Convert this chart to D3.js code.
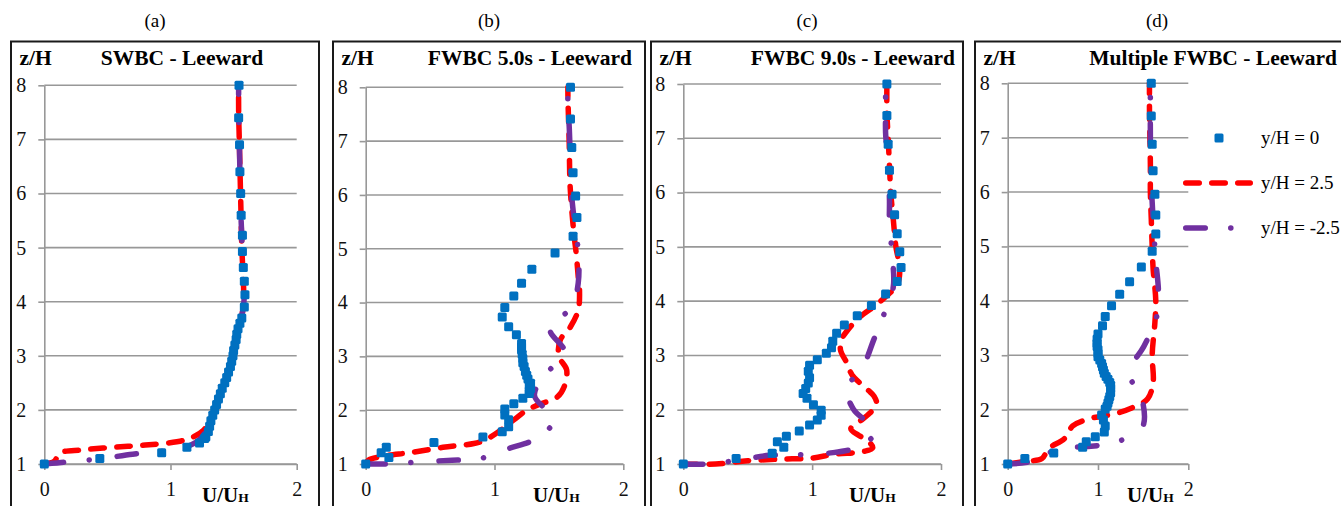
<!DOCTYPE html>
<html>
<head>
<meta charset="utf-8">
<script src="https://cdn.jsdelivr.net/npm/d3@7"></script>
<style>
    body { margin: 0; background: #fff; }
    svg { display: block; }
</style>
</head>
<body>
<div id="chart"></div>
<script>
// labels
const panelLetters = ["(a)", "(b)", "(c)", "(d)"];
const panelTitles = ["SWBC - Leeward", "FWBC 5.0s - Leeward", "FWBC 9.0s - Leeward", "Multiple FWBC - Leeward"];
const seriesNames = ["y/H = 0", "y/H = 2.5", "y/H = -2.5"];
const xTicks = [0, 1, 2];
const yTicks = [1, 2, 3, 4, 5, 6, 7, 8];

// data: [U/UH, z/H] pairs
const aY0 = [[0,1.0],[0.44,1.10],[0.93,1.21],[1.13,1.31],[1.23,1.39],[1.27,1.47],[1.28,1.5],[1.30,1.6],[1.31,1.7],[1.32,1.8],[1.335,1.9],[1.35,2.0],[1.365,2.1],[1.38,2.2],[1.395,2.3],[1.41,2.4],[1.43,2.5],[1.445,2.6],[1.46,2.7],[1.475,2.8],[1.485,2.9],[1.495,3.0],[1.50,3.1],[1.51,3.2],[1.52,3.3],[1.525,3.4],[1.535,3.5],[1.55,3.6],[1.565,3.7],[1.585,3.9],[1.59,4.13],[1.585,4.38],[1.577,4.63],[1.57,4.93],[1.57,5.23],[1.56,5.6],[1.556,6.0],[1.55,6.4],[1.547,6.9],[1.54,7.4],[1.543,8.0]];
const aY25 = [[0,1.0],[0.08,1.05],[0.12,1.2],[0.3,1.26],[0.55,1.31],[0.8,1.35],[1.05,1.41],[1.15,1.47],[1.26,1.62],[1.33,1.9],[1.38,2.2],[1.44,2.6],[1.49,3.0],[1.53,3.4],[1.57,3.8],[1.58,4.1],[1.575,4.5],[1.565,5.0],[1.56,5.5],[1.555,6.0],[1.55,6.5],[1.545,7.0],[1.54,7.5],[1.54,8.0]];
const aYm25 = [[0,1.0],[0.1,1.02],[0.2,1.04],[0.45,1.1],[0.7,1.18],[0.92,1.23],[1.13,1.32],[1.25,1.5],[1.33,1.9],[1.40,2.3],[1.47,2.8],[1.52,3.3],[1.57,3.8],[1.585,4.1],[1.575,4.6],[1.565,5.2],[1.555,5.8],[1.55,6.4],[1.545,7.0],[1.54,7.6],[1.54,8.0]];

const bY0 = [[0,1.0],[0.18,1.12],[0.12,1.21],[0.16,1.31],[0.53,1.40],[0.91,1.50],[1.06,1.60],[1.11,1.69],[1.11,1.82],[1.08,1.91],[1.08,2.02],[1.15,2.12],[1.22,2.22],[1.27,2.31],[1.27,2.36],[1.28,2.4],[1.27,2.45],[1.28,2.50],[1.26,2.58],[1.25,2.65],[1.24,2.72],[1.23,2.81],[1.22,2.88],[1.22,2.96],[1.215,3.04],[1.21,3.12],[1.21,3.18],[1.21,3.24],[1.17,3.40],[1.11,3.55],[1.06,3.73],[1.08,3.91],[1.15,4.12],[1.21,4.36],[1.29,4.62],[1.47,4.92],[1.61,5.23],[1.64,5.58],[1.63,5.98],[1.61,6.41],[1.60,6.88],[1.59,7.41],[1.59,8.0]];
const bY25 = [[0,1.0],[0.02,1.07],[0.15,1.15],[0.34,1.21],[0.6,1.31],[0.84,1.38],[0.93,1.45],[1.02,1.58],[1.15,1.82],[1.25,2.0],[1.34,2.10],[1.49,2.25],[1.54,2.43],[1.56,2.75],[1.50,3.0],[1.51,3.3],[1.59,3.55],[1.65,3.86],[1.66,4.23],[1.65,4.48],[1.635,4.9],[1.62,5.2],[1.60,5.72],[1.586,6.22],[1.58,6.96],[1.57,7.83],[1.57,8.0]];
const bYm25 = [[0,1.0],[0.16,1.0],[0.43,1.04],[0.67,1.07],[0.87,1.09],[1.10,1.28],[1.33,1.48],[1.46,1.82],[1.31,2.28],[1.43,2.75],[1.55,3.06],[1.43,3.51],[1.60,3.92],[1.65,4.36],[1.65,4.94],[1.61,5.72],[1.60,5.97],[1.59,6.57],[1.58,7.27],[1.57,7.64],[1.57,8.0]];

const cY0 = [[0,1.0],[0.41,1.10],[0.69,1.20],[0.78,1.31],[0.73,1.41],[0.80,1.51],[0.90,1.61],[0.98,1.72],[1.04,1.81],[1.07,1.90],[1.07,1.99],[1.01,2.09],[0.96,2.21],[0.93,2.30],[0.95,2.39],[0.97,2.49],[0.98,2.59],[0.97,2.71],[0.98,2.82],[1.04,2.92],[1.11,3.04],[1.15,3.14],[1.16,3.26],[1.19,3.41],[1.25,3.56],[1.35,3.73],[1.46,3.92],[1.57,4.13],[1.66,4.36],[1.69,4.62],[1.68,4.91],[1.66,5.24],[1.64,5.59],[1.62,5.97],[1.60,6.41],[1.59,6.89],[1.58,7.42],[1.58,8.0]];
const cY25 = [[0,1.0],[0.25,1.0],[0.5,1.06],[0.75,1.09],[1.0,1.11],[1.17,1.18],[1.40,1.23],[1.47,1.3],[1.42,1.45],[1.36,1.53],[1.30,1.65],[1.36,1.77],[1.43,1.90],[1.50,2.1],[1.48,2.25],[1.43,2.37],[1.31,2.64],[1.27,2.86],[1.22,3.1],[1.23,3.3],[1.27,3.45],[1.37,3.71],[1.48,3.9],[1.57,4.08],[1.66,4.3],[1.68,4.6],[1.65,5.0],[1.63,5.5],[1.61,6.0],[1.60,6.5],[1.59,7.0],[1.58,7.5],[1.58,8.0]];
const cYm25 = [[0,1.0],[0.2,1.0],[0.45,1.08],[0.67,1.16],[0.88,1.17],[1.13,1.20],[1.35,1.31],[1.49,1.59],[1.32,2.01],[1.27,2.40],[1.39,2.77],[1.48,3.30],[1.57,3.84],[1.63,4.27],[1.62,4.87],[1.60,5.43],[1.60,5.86],[1.59,6.48],[1.57,7.1],[1.57,7.5],[1.57,8.0]];

const dY0 = [[0,1.0],[0.19,1.10],[0.51,1.20],[0.83,1.31],[0.87,1.41],[0.97,1.50],[1.07,1.59],[1.08,1.70],[1.06,1.81],[1.04,1.90],[1.08,2.01],[1.10,2.06],[1.11,2.12],[1.12,2.18],[1.13,2.24],[1.14,2.31],[1.14,2.39],[1.14,2.45],[1.13,2.50],[1.11,2.56],[1.09,2.61],[1.07,2.67],[1.06,2.73],[1.05,2.79],[1.04,2.85],[1.02,2.91],[1.00,2.97],[1.0,3.03],[1.00,3.10],[0.99,3.16],[0.99,3.22],[0.99,3.30],[1.00,3.39],[1.05,3.54],[1.08,3.71],[1.15,3.91],[1.24,4.12],[1.35,4.35],[1.48,4.62],[1.60,4.91],[1.64,5.23],[1.64,5.58],[1.63,5.96],[1.61,6.39],[1.60,6.88],[1.59,7.40],[1.59,8.0]];
const dY25 = [[0,1.0],[0.2,1.05],[0.38,1.1],[0.45,1.28],[0.63,1.47],[0.72,1.70],[0.9,1.83],[1.2,1.93],[1.4,2.05],[1.55,2.2],[1.61,2.5],[1.60,3.0],[1.63,3.6],[1.64,4.0],[1.61,4.6],[1.60,5.0],[1.59,5.5],[1.58,6.0],[1.58,6.5],[1.575,7.0],[1.57,7.5],[1.57,8.0]];
const dYm25 = [[0,1.0],[0.27,1.05],[0.58,1.29],[0.89,1.32],[1.21,1.41],[1.49,1.67],[1.48,2.24],[1.34,2.67],[1.51,3.17],[1.65,3.71],[1.67,4.14],[1.64,4.74],[1.61,5.5],[1.59,6.2],[1.58,7.0],[1.58,7.8]];

const panelData = [
    [aY0, aY25, aYm25],
    [bY0, bY25, bYm25],
    [cY0, cY25, cYm25],
    [dY0, dY25, dYm25]
];

// layout (pixels) for each panel box and plot area
const layout = [
    {left: 11,  right: 319,  x0: 44.3,   x2: 296.7,  y8: 85.3, y1: 464, letterX: 155,  titleX: 182,  titleAnchor: "middle", unitX: 202},
    {left: 333, right: 645,  x0: 365.7,  x2: 623.3,  y8: 87.3, y1: 464, letterX: 489,  titleX: 632,  titleAnchor: "end",    unitX: 533},
    {left: 651, right: 963,  x0: 683.3,  x2: 941,    y8: 84,   y1: 464, letterX: 807,  titleX: 955,  titleAnchor: "end",    unitX: 849},
    {left: 975, right: 1360, x0: 1007.7, x2: 1188.3, y8: 83.3, y1: 464, letterX: 1157, titleX: 1337, titleAnchor: "end",    unitX: 1127}
];

const serif = "'Liberation Serif', 'Times New Roman', Times, serif";
const blue = "#0070C0", red = "#FF0000", purple = "#7030A0", grid = "#989898";
const redDash = "13.5,12.5";
const purpleDash = "19.5,25.5,0.1,28";

const svg = d3.select("#chart")
    .append("svg")
    .attr("width", 1341)
    .attr("height", 506)
    .attr("font-family", serif);

function drawPanel(p, series, i) {
    const xScale = d3.scaleLinear().domain([0, 2]).range([p.x0, p.x2]);
    const yScale = d3.scaleLinear().domain([1, 8]).range([p.y1, p.y8]);
    const g = svg.append("g");

    // panel letter above the box
    svg.append("text")
        .attr("x", p.letterX)
        .attr("y", 27)
        .attr("text-anchor", "middle")
        .style("font-size", "19px")
        .text(panelLetters[i]);

    // box round the panel (bottom runs past the picture)
    g.append("rect")
        .attr("x", p.left)
        .attr("y", 41.5)
        .attr("width", p.right - p.left)
        .attr("height", 520)
        .attr("fill", "none")
        .attr("stroke", "#1a1a1a")
        .attr("stroke-width", 2);

    // horizontal gridlines
    g.selectAll(".grid")
        .data(yTicks)
        .join("line")
        .attr("class", "grid")
        .attr("x1", p.x0)
        .attr("x2", xScale(2))
        .attr("y1", d => yScale(d))
        .attr("y2", d => yScale(d))
        .attr("stroke", grid)
        .attr("stroke-width", 1.6);

    // axes
    const yAxis = g.append("g")
        .attr("transform", `translate(${p.x0},0)`)
        .call(d3.axisLeft(yScale).tickValues(yTicks).tickSize(6).tickSizeOuter(0).tickPadding(12).tickFormat(d3.format("d")));
    const xAxis = g.append("g")
        .attr("transform", `translate(0,${p.y1})`)
        .call(d3.axisBottom(xScale).tickValues(xTicks).tickSize(6).tickSizeOuter(0).tickPadding(12).tickFormat(d3.format("d")));
    [yAxis, xAxis].forEach(ax => {
        ax.attr("font-family", serif).attr("font-size", null);
        ax.selectAll("path, line").attr("stroke", grid).attr("stroke-width", 1.6);
        ax.selectAll("text").attr("fill", "#111").style("font-size", "20px");
    });

    // axis names and title
    g.append("text")
        .attr("x", p.left + 8.5)
        .attr("y", 65)
        .style("font-size", "21.5px")
        .style("font-weight", "bold")
        .text("z/H");
    g.append("text")
        .attr("x", p.titleX)
        .attr("y", 65)
        .attr("text-anchor", p.titleAnchor)
        .style("font-size", "21.5px")
        .style("font-weight", "bold")
        .text(panelTitles[i]);
    const unit = g.append("text")
        .attr("x", p.unitX)
        .attr("y", 502)
        .style("font-size", "21px")
        .style("font-weight", "bold")
        .text("U/U");
    unit.append("tspan").style("font-size", "13.5px").text("H");

    const line = d3.line()
        .x(d => xScale(d[0]))
        .y(d => yScale(d[1]))
        .curve(d3.curveCatmullRom.alpha(0.5));

    // red dashed, then purple dash-dot, markers on top
    g.append("path")
        .datum(series[1])
        .attr("d", line)
        .attr("fill", "none")
        .attr("stroke", red)
        .attr("stroke-width", 5.5)
        .attr("stroke-linecap", "round")
        .attr("stroke-dasharray", redDash);
    g.append("path")
        .datum(series[2])
        .attr("d", line)
        .attr("fill", "none")
        .attr("stroke", purple)
        .attr("stroke-width", 5.5)
        .attr("stroke-linecap", "round")
        .attr("stroke-dasharray", purpleDash);
    g.selectAll(".marker")
        .data(series[0])
        .join("rect")
        .attr("class", "marker")
        .attr("x", d => xScale(d[0]) - 4.5)
        .attr("y", d => yScale(d[1]) - 4.5)
        .attr("width", 9)
        .attr("height", 9)
        .attr("rx", 1.5)
        .attr("fill", blue);
}

function drawLegend() {
    const rows = [138, 183, 228];
    const lg = svg.append("g");
    lg.append("rect")
        .attr("x", 1214.5).attr("y", rows[0] - 4.5)
        .attr("width", 9).attr("height", 9).attr("rx", 1.5)
        .attr("fill", blue);
    lg.append("line")
        .attr("x1", 1185.75).attr("x2", 1250.25)
        .attr("y1", rows[1]).attr("y2", rows[1])
        .attr("stroke", red).attr("stroke-width", 5.5)
        .attr("stroke-linecap", "round")
        .attr("stroke-dasharray", redDash);
    lg.append("line")
        .attr("x1", 1185.75).attr("x2", 1245)
        .attr("y1", rows[2]).attr("y2", rows[2])
        .attr("stroke", purple).attr("stroke-width", 5.5)
        .attr("stroke-linecap", "round")
        .attr("stroke-dasharray", purpleDash);
    lg.selectAll(".legText")
        .data(seriesNames)
        .join("text")
        .attr("class", "legText")
        .attr("x", 1261)
        .attr("y", (d, k) => rows[k])
        .attr("dy", "0.33em")
        .style("font-size", "19px")
        .text(d => d);
}

function main() {
    layout.forEach((p, i) => drawPanel(p, panelData[i], i));
    drawLegend();
}

main();
</script>
</body>
</html>
